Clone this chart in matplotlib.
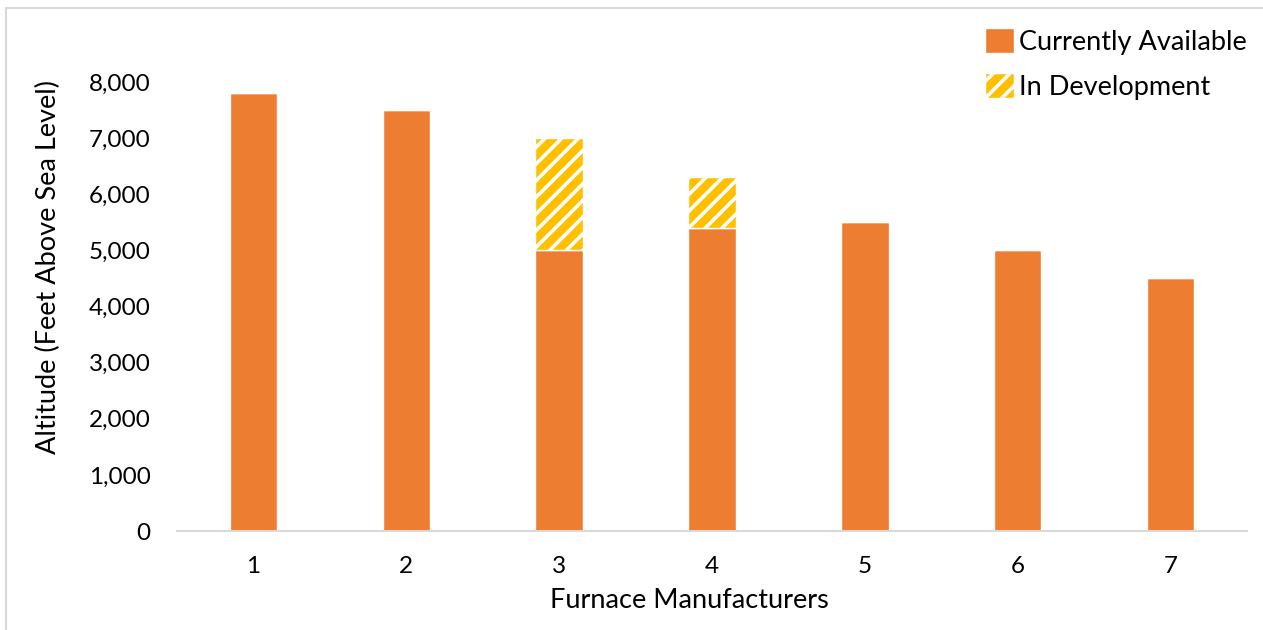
import matplotlib
matplotlib.use("Agg")
import matplotlib.pyplot as plt
from matplotlib.patches import Rectangle, Patch
from matplotlib.ticker import FuncFormatter

plt.rcParams['font.family'] = ['Lato', 'DejaVu Sans']
plt.rcParams['hatch.linewidth'] = 2.6

manufacturers = ['1', '2', '3', '4', '5', '6', '7']
available = [7800, 7500, 5000, 5400, 5500, 5000, 4500]
in_development = [0, 0, 2000, 900, 0, 0, 0]

orange = '#ED7D31'
gold = '#FFC000'

W, H = 1263, 630
fig = plt.figure(figsize=(W / 100, H / 100), dpi=100)
ax = fig.add_axes([177 / W, 1 - 531 / H, (1247 - 177) / W, (531 - 82) / H])

x = list(range(len(manufacturers)))
ax.bar(x, available, width=0.31, color=orange, edgecolor='white', linewidth=1,
       label='Currently Available', zorder=2)
ax.bar(x, in_development, bottom=available, width=0.31, color=gold,
       edgecolor='white', linewidth=1, hatch='//', label='In Development', zorder=2)

ax.set_xlim(-0.5, len(manufacturers) - 0.5)
ax.set_ylim(0, 8000)
ax.set_xticks(x)
ax.set_xticklabels(manufacturers)
ax.set_yticks(range(0, 8001, 1000))
ax.yaxis.set_major_formatter(FuncFormatter(lambda v, p: f'{int(v):,}'))
ax.tick_params(axis='both', length=0, labelsize=17.5, colors='#000000')
ax.tick_params(axis='x', pad=18)
ax.tick_params(axis='y', pad=19)

for s in ['top', 'right', 'left']:
    ax.spines[s].set_visible(False)
ax.spines['bottom'].set_color('#D9D9D9')
ax.spines['bottom'].set_linewidth(1.5)

ax.set_xlabel('Furnace Manufacturers', fontsize=19.5)
ax.xaxis.set_label_coords(689 / W, 1 - 601 / H, transform=fig.transFigure)
ax.xaxis.label.set_verticalalignment('center')
ax.set_ylabel('Altitude (Feet Above Sea Level)', fontsize=19.5)
ax.yaxis.set_label_coords(48 / W, 1 - 267 / H, transform=fig.transFigure)
ax.yaxis.label.set_verticalalignment('center')

handles = [Patch(facecolor=orange, edgecolor='white', label='Currently Available'),
           Patch(facecolor=gold, edgecolor='white', hatch='//', label='In Development')]
leg = ax.legend(handles=handles, loc='upper right', bbox_to_anchor=(1247 / W, 1 - 28 / H),
                bbox_transform=fig.transFigure, frameon=False, fontsize=19.5,
                handlelength=1.06, handleheight=1.03, handletextpad=0.2,
                labelspacing=0.68, borderaxespad=0, borderpad=0)

# outer chart frame
fig.patches.append(Rectangle((6 / W, -0.1), 1.2, 1 - 8 / H + 0.1, transform=fig.transFigure,
                             fill=False, edgecolor='#D9D9D9', linewidth=1.5))

fig.savefig('out.png', dpi=100)
